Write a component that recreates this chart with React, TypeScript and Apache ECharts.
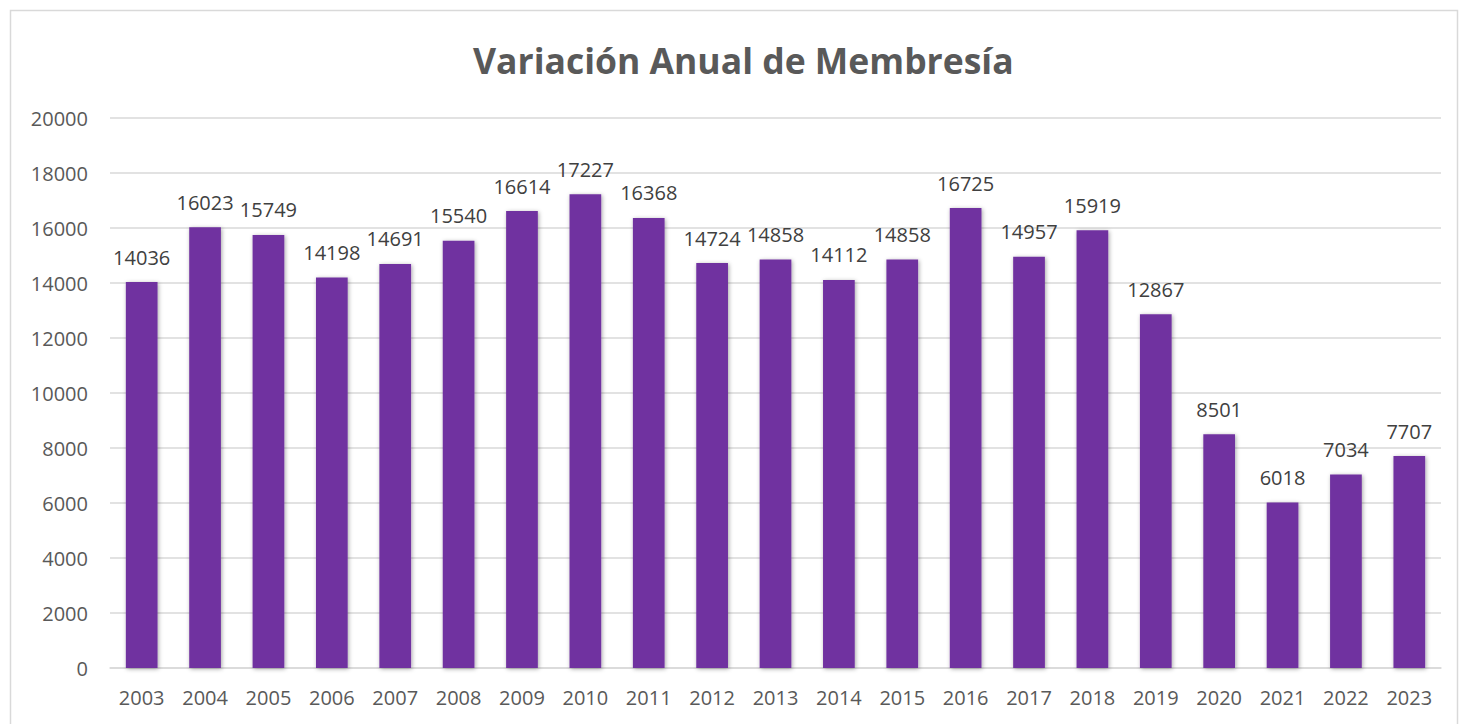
import React, { useEffect, useRef } from "react";
import * as echarts from "echarts";

const years = ["2003","2004","2005","2006","2007","2008","2009","2010","2011","2012","2013","2014","2015","2016","2017","2018","2019","2020","2021","2022","2023"];
const membership = [14036,16023,15749,14198,14691,15540,16614,17227,16368,14724,14858,14112,14858,16725,14957,15919,12867,8501,6018,7034,7707];
const title = "Variación Anual de Membresía";

export default function App() {
  const ref = useRef<HTMLDivElement>(null);
  useEffect(() => {
    document.body.style.margin = "0";
    const chart = echarts.init(ref.current!, null, { renderer: "svg" });
    chart.setOption({
      animation: false,
      backgroundColor: "#ffffff",
      title: {
        text: title,
        left: 468,
        top: 37,
        textStyle: { color: "#595959", fontSize: 35.5, fontWeight: "bold", fontFamily: "Open Sans" },
      },
      graphic: [
        {
          type: "rect",
          shape: { x: 10.5, y: 10.5, width: 1447, height: 740 },
          style: { fill: "none", stroke: "#d9d9d9", lineWidth: 1.5 },
          silent: true,
        },
      ],
      grid: { left: 110, right: 19, top: 118, bottom: 56, containLabel: false },
      xAxis: {
        type: "category",
        data: years,
        axisLine: { show: true, lineStyle: { color: "#d9d9d9", width: 1.5 } },
        axisTick: { show: false },
        axisLabel: { color: "#595959", fontSize: 20, margin: 19, fontFamily: "Open Sans" },
      },
      yAxis: {
        type: "value",
        min: 0,
        max: 20000,
        interval: 2000,
        axisLine: { show: false },
        axisTick: { show: false },
        axisLabel: {
          color: "#595959",
          fontSize: 20,
          margin: 22,
          fontFamily: "Open Sans",
          formatter: (v: number) => String(v),
        },
        splitLine: { lineStyle: { color: "#d9d9d9", width: 1.5 } },
      },
      series: [
        {
          type: "bar",
          data: membership,
          barWidth: "50%",
          itemStyle: {
            color: "#7030a0",
            shadowBlur: 4,
            shadowColor: "rgba(0,0,0,0.35)",
            shadowOffsetX: 1,
            shadowOffsetY: 1,
          },
          label: {
            show: true,
            position: "top",
            distance: 15,
            color: "#404040",
            fontSize: 20,
            fontFamily: "Open Sans",
          },
        },
      ],
    });
    return () => chart.dispose();
  }, []);
  return <div ref={ref} style={{ width: 1460, height: 724 }} />;
}
